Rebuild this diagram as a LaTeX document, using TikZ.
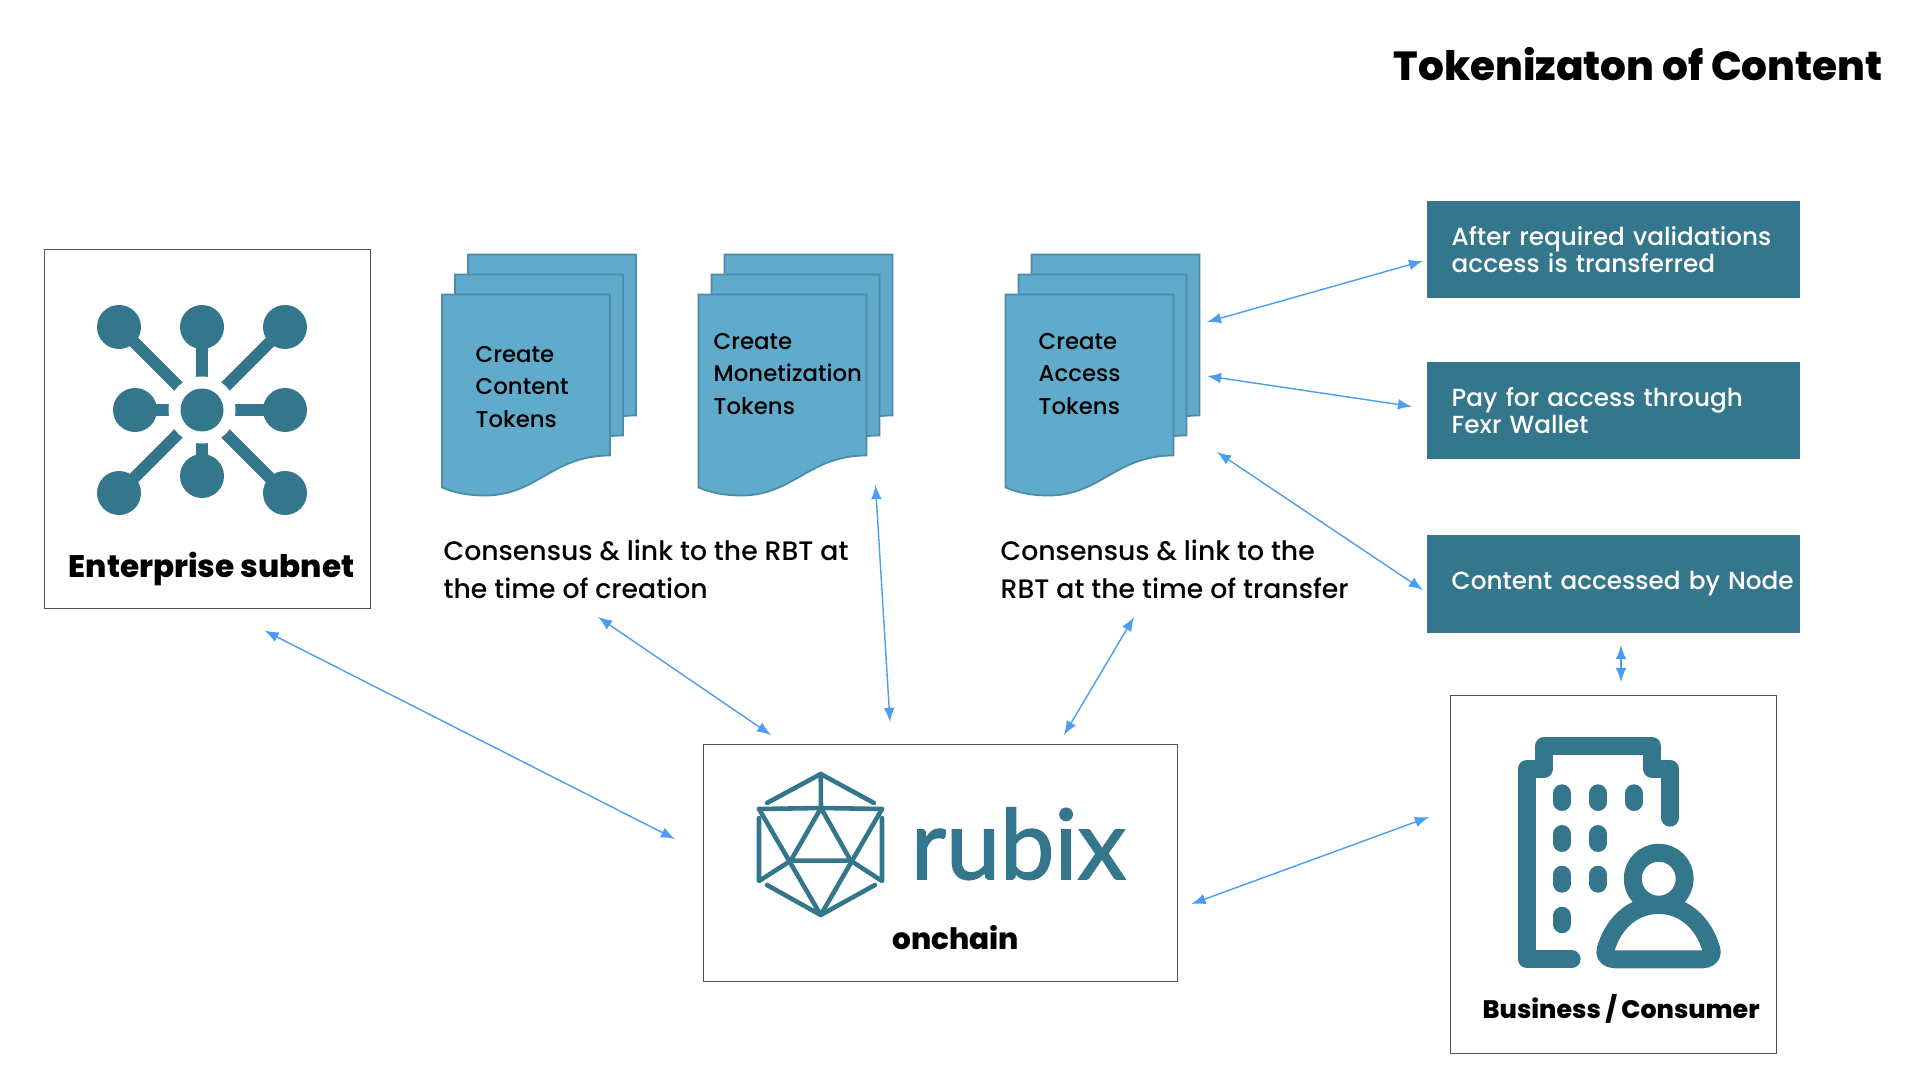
\documentclass[tikz,border=0pt]{standalone}
\usepackage{fontspec}
\setmainfont{Poppins Medium}
\newfontfamily\logofont[RawFeature={embolden=1.6}]{Lato}
\newfontfamily\heavyfont{Poppins ExtraBold}
\usetikzlibrary{calc}
\definecolor{rubixteal}{HTML}{34768B}
\definecolor{sheetblue}{HTML}{60AACB}
\definecolor{sheetedge}{HTML}{4B8CA8}
\definecolor{linkblue}{HTML}{4A9EF2}
\definecolor{framegrey}{HTML}{555555}
\tikzset{
  framebox/.style={draw=framegrey,line width=0.4pt,anchor=north west,inner sep=0pt},
  stagebox/.style={fill=rubixteal,text=white,anchor=north west,minimum width=3.73cm,minimum height=0.975cm,inner ysep=0pt,inner xsep=0.245cm,
    text width=3.24cm,align=left,font=\fontsize{7.03}{7.7}\selectfont},
  sheet/.style={draw=sheetedge,fill=sheetblue,line width=0.5pt},
  sheettext/.style={anchor=base west,inner sep=0pt,align=left,font=\fontsize{6.5}{9.15}\selectfont},
  notetext/.style={anchor=base west,inner sep=0pt,align=left,font=\fontsize{7.6}{10.7}\selectfont},
  heading/.style={anchor=base west,inner sep=0pt,font=\heavyfont\fontsize{8}{10}\selectfont},
  link/.style={latex-latex,draw=linkblue,line width=0.4pt},
  logoline/.style={draw=rubixteal,line width=1.3pt,line cap=round,line join=round},
  iconline/.style={draw=rubixteal,line width=5.1pt,line cap=round,line join=round}
}
\begin{document}
\begin{tikzpicture}[x=1cm,y=-1cm]
\useasboundingbox (0,0) rectangle (19.2,10.8);

\node[anchor=base west,inner sep=0pt,font=\heavyfont\fontsize{11.55}{13}\selectfont] (title) at (13.93,0.81) {Tokenizaton of Content};

% frames
\node[framebox,minimum width=3.26cm,minimum height=3.59cm] (subnet) at (0.44,2.49) {};
\node[framebox,minimum width=4.74cm,minimum height=2.37cm] (onchain) at (7.03,7.44) {};
\node[framebox,minimum width=3.26cm,minimum height=3.58cm] (business) at (14.50,6.95) {};

% subnet icon
\foreach \px/\py in {1.19/3.27,2.02/3.27,2.85/3.27,1.35/4.10,2.85/4.10,1.19/4.93,2.02/4.76,2.85/4.93} {
  \draw[rubixteal,line width=3.4pt] (2.02,4.10) -- (\px,\py);
  \fill[rubixteal] (\px,\py) circle (0.22);
}
\fill[white] (2.02,4.10) circle (0.335);
\fill[rubixteal] (2.02,4.10) circle (0.215);
\node[heading,font=\heavyfont\fontsize{8.85}{10}\selectfont] (subnetname) at (0.68,5.77) {Enterprise subnet};

% token sheets
\foreach \sx in {4.42,6.985,10.055} {
  \foreach \dx/\dy in {0.26/-0.40,0.13/-0.20,0/0} {
    \draw[sheet,shift={(\sx+\dx,2.945+\dy)}] (0,0) -- (1.68,0) -- (1.68,1.61) .. controls (1.10,1.61) and (0.95,2.01) .. (0.43,2.01) .. controls (0.25,2.01) and (0.12,1.98) .. (0,1.93) -- cycle;
  }
}
\node[sheettext] (content) at (4.75,4.27) {Create\\Content\\Tokens};
\node[sheettext] (monetize) at (7.13,4.14) {Create\\Monetization\\Tokens};
\node[sheettext] (access) at (10.38,4.14) {Create\\Access\\Tokens};

\node[notetext] (creation) at (4.43,5.985) {Consensus \& link to the RBT at\\the time of creation};
\node[notetext] (transfer) at (10.00,5.985) {Consensus \& link to the\\RBT at the time of transfer};

% stages
\node[stagebox] (validate) at (14.265,2.00) {\mbox{After required validations}\\access is transferred};
\node[stagebox] (pay) at (14.265,3.61) {Pay for access through\\Fexr Wallet};
\node[stagebox] (accessed) at (14.265,5.345) {\mbox{Content accessed by Node}};

% rubix logo
\draw[logoline] (7.67,8.03) -- (8.207,7.74) -- (8.74,8.03);
\draw[logoline] (8.207,7.74) -- (8.21,8.08);
\draw[logoline] (7.59,8.09) -- (8.21,8.08) -- (8.82,8.09);
\draw[logoline] (7.59,8.09) -- (8.207,9.15) -- (8.82,8.09);
\draw[logoline] (8.21,8.08) -- (7.907,8.607) -- (8.507,8.607) -- cycle;
\draw[logoline] (7.59,8.18) -- (7.59,8.81) -- (7.907,8.607);
\draw[logoline] (8.82,8.18) -- (8.82,8.81) -- (8.507,8.607);
\draw[logoline] (7.67,8.85) -- (8.207,9.15) -- (8.75,8.85);
\node[anchor=base west,inner sep=0pt,text=rubixteal,font=\logofont\fontsize{27.6}{30}\selectfont] (rubixname) at (9.10,8.79) {rubix};
\node[anchor=base,inner sep=0pt,font=\heavyfont\fontsize{8.4}{10}\selectfont] (onchainname) at (9.557,9.49) {onchain};

% business icon
\draw[iconline] (15.717,9.593) -- (15.267,9.593) -- (15.267,7.687) -- (15.443,7.687) -- (15.443,7.46) -- (16.52,7.46) -- (16.52,7.687) -- (16.70,7.687) -- (16.70,8.177);
\foreach \wx/\wa/\wb in {15.62/7.933/8.02,15.98/7.933/8.02,16.34/7.933/8.02,15.62/8.34/8.43,15.98/8.34/8.43,15.62/8.747/8.837,15.98/8.747/8.837,15.62/9.157/9.243} {
  \draw[iconline] (\wx,\wa) -- (\wx,\wb);
}
\draw[iconline] (16.587,8.787) circle (0.26);
\draw[iconline] (17.03,9.593) .. controls (17.09,9.593) and (17.13,9.55) .. (17.115,9.50) .. controls (17.04,9.23) and (16.84,9.05) .. (16.587,9.05) .. controls (16.33,9.05) and (16.13,9.23) .. (16.055,9.50) .. controls (16.04,9.55) and (16.08,9.593) .. (16.15,9.593) -- cycle;
\node[heading,font=\heavyfont\fontsize{7.2}{10}\selectfont] (businessname) at (14.82,10.18) {Business / Consumer};

% link ends
\coordinate (subnetlink) at (2.645,6.306);
\coordinate (onchainleft) at (6.75,8.39);
\coordinate (creationlink) at (5.98,6.17);
\coordinate (onchaintop) at (7.71,7.35);
\coordinate (monetizelink) at (8.755,4.85);
\coordinate (onchainmid) at (8.90,7.22);
\coordinate (transferlink) at (11.34,6.17);
\coordinate (onchainright) at (10.64,7.35);
\coordinate (accesstop) at (12.07,3.22);
\coordinate (validatelink) at (14.23,2.61);
\coordinate (accessmid) at (12.07,3.76);
\coordinate (paylink) at (14.12,4.065);
\coordinate (accesslow) at (12.17,4.52);
\coordinate (accessedlink) at (14.23,5.90);
\coordinate (accessedlow) at (16.21,6.45);
\coordinate (businesstop) at (16.21,6.82);
\coordinate (onchainlow) at (11.915,9.04);
\coordinate (businessleft) at (14.29,8.17);

\draw[link] (subnetlink) -- (onchainleft);
\draw[link] (creationlink) -- (onchaintop);
\draw[link] (monetizelink) -- (onchainmid);
\draw[link] (transferlink) -- (onchainright);
\draw[link] (accesstop) -- (validatelink);
\draw[link] (accessmid) -- (paylink);
\draw[link] (accesslow) -- (accessedlink);
\draw[link] (accessedlow) -- (businesstop);
\draw[link] (onchainlow) -- (businessleft);
\end{tikzpicture}
\end{document}
